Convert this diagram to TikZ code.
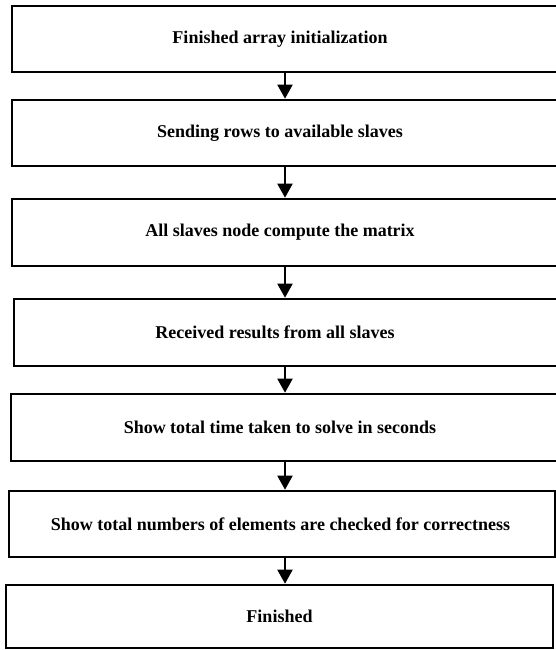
\documentclass[tikz,border=0pt]{standalone}
\usepackage{fontspec}
\setmainfont{Liberation Serif}
\usetikzlibrary{arrows.meta}
\begin{document}
\begin{tikzpicture}[x=1pt,y=-1pt,
  stepbox/.style={draw=black, line width=2.6pt, rectangle, inner sep=0pt,
    font=\fontsize{18}{20}\selectfont\bfseries},
  flow/.style={line width=2pt, -{Triangle[width=15pt,length=14pt]}}]
\useasboundingbox (0,0) rectangle (556,650);
\fill[white] (0,0) rectangle (556,650);
% boxes: centre x, centre y, width, height (boxes 1-5 run past the right edge)
\node[stepbox, minimum width=554pt, minimum height=66pt] (b1) at (289,39)
  {\hspace*{-18pt}Finished array initialization};
\node[stepbox, minimum width=554pt, minimum height=66pt] (b2) at (289,133)
  {\hspace*{-18pt}Sending rows to available slaves};
\node[stepbox, minimum width=554pt, minimum height=67pt] (b3) at (289,232.5)
  {\hspace*{-18pt}All slaves node compute the matrix};
\node[stepbox, minimum width=552pt, minimum height=67pt] (b4) at (290,332.5)
  {\hspace*{-30pt}Received results from all slaves};
\node[stepbox, minimum width=555pt, minimum height=67pt] (b5) at (288.5,427.5)
  {\hspace*{-17pt}Show total time taken to solve in seconds};
\node[stepbox, minimum width=546pt, minimum height=66pt] (b6) at (282,524)
  {\hspace*{-3pt}Show total numbers of elements are checked for correctness};
\node[stepbox, minimum width=547pt, minimum height=63pt] (b7) at (279.5,616.5)
  {Finished};
% arrow axis
\coordinate (ax) at (285,0);
\draw[flow] (b1.south -| ax) -- (b2.north -| ax);
\draw[flow] (b2.south -| ax) -- (b3.north -| ax);
\draw[flow] (b3.south -| ax) -- (b4.north -| ax);
\draw[flow] (b4.south -| ax) -- (b5.north -| ax);
\draw[flow] (b5.south -| ax) -- (b6.north -| ax);
\draw[flow] (b6.south -| ax) -- (b7.north -| ax);
\end{tikzpicture}
\end{document}
